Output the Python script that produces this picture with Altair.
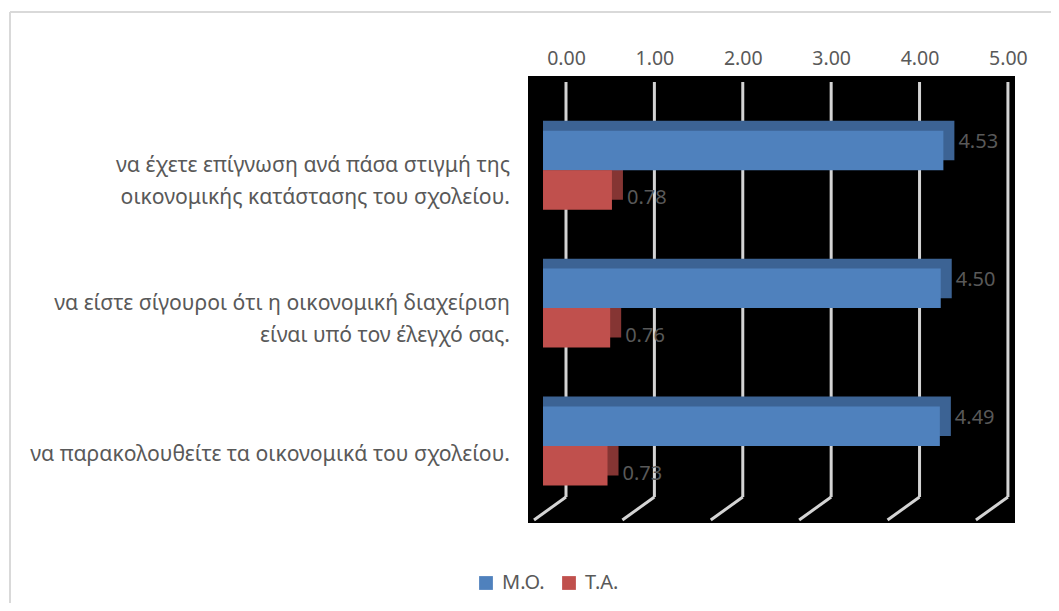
import altair as alt
import pandas as pd

categories = [
    "να έχετε επίγνωση ανά πάσα στιγμή της\nοικονομικής κατάστασης του σχολείου.",
    "να είστε σίγουροι ότι η οικονομική διαχείριση\nείναι υπό τον έλεγχό σας.",
    "να παρακολουθείτε τα οικονομικά του σχολείου.",
]
series = ["Μ.Ο.", "Τ.Α."]
mo_values = [4.53, 4.50, 4.49]
ta_values = [0.78, 0.76, 0.73]
tick_values = [0, 1, 2, 3, 4, 5]

colors = ["#4f81bd", "#c0504d"]
dark_colors = ["#3c6394", "#853533"]
FONT = "Noto Sans"
GREY = "#595959"

rows = []
for i, c in enumerate(categories):
    rows.append({"cat": c, "series": series[0], "value": mo_values[i], "zero": 0})
    rows.append({"cat": c, "series": series[1], "value": ta_values[i], "zero": 0})
df = pd.DataFrame(rows)
cat_df = pd.DataFrame({"cat": categories})
tick_df = pd.DataFrame({"t": tick_values})

W, H = 487, 447
xscale = alt.Scale(domain=[-0.43, 5.08], nice=False, zero=False)
yscale = alt.Scale(domain=categories, paddingInner=0, paddingOuter=0.12, align=0.76)
yoff_scale = alt.Scale(domain=series, paddingInner=0, paddingOuter=0.747)
yoff_depth = alt.Scale(domain=series, paddingInner=0, paddingOuter=0.747, range=[-10, 128])

base = alt.Chart(df)

grid_v = alt.Chart(tick_df).mark_rule(color="#d4d4d4", strokeWidth=3).encode(
    x=alt.X("t:Q", scale=xscale,
            axis=alt.Axis(orient="top", values=tick_values, format=".2f", title=None,
                          domain=False, ticks=False, grid=False, labelFontSize=19.5,
                          labelColor=GREY, labelFont=FONT, labelPadding=8)),
    y=alt.value(6), y2=alt.value(421),
)
grid_d = alt.Chart(tick_df).mark_rule(color="#d4d4d4", strokeWidth=3, x2Offset=-32).encode(
    x=alt.X("t:Q", scale=xscale), x2="t:Q",
    y=alt.value(421), y2=alt.value(444),
)

depth = base.mark_bar(xOffset=-12, x2Offset=-23).encode(
    x=alt.X("value:Q", scale=xscale), x2="zero:Q",
    y=alt.Y("cat:N", scale=yscale, axis=None, sort=categories),
    yOffset=alt.YOffset("series:N", scale=yoff_depth, sort=series),
    color=alt.Color("series:N", scale=alt.Scale(domain=series, range=dark_colors), legend=None),
)

bars = base.mark_bar(xOffset=-23, x2Offset=-23).encode(
    x=alt.X("value:Q", scale=xscale), x2="zero:Q",
    y=alt.Y("cat:N", scale=yscale, axis=None, sort=categories),
    yOffset=alt.YOffset("series:N", scale=yoff_scale, sort=series),
    color=alt.Color("series:N", scale=alt.Scale(domain=series, range=colors),
                    legend=alt.Legend(title=None, orient="none", legendX=-52, legendY=497,
                                      direction="horizontal", symbolType="square",
                                      symbolSize=190, symbolStrokeWidth=0, labelFontSize=20,
                                      labelFont=FONT, labelColor=GREY, columnPadding=14,
                                      labelOffset=6)),
)

labels = base.mark_text(align="left", baseline="middle", dx=-8, fontSize=20,
                        font=FONT, color=GREY).encode(
    x=alt.X("value:Q", scale=xscale),
    y=alt.Y("cat:N", scale=yscale, axis=None, sort=categories),
    yOffset=alt.YOffset("series:N", scale=yoff_scale, sort=series),
    text=alt.Text("value:Q", format=".2f"),
)

def cat_layer(filt, dy):
    return alt.Chart(cat_df).transform_filter(filt).mark_text(
        align="right", baseline="middle", lineBreak="\n", fontSize=21.2, font=FONT,
        color=GREY, lineHeight=32, dy=dy).encode(
        y=alt.Y("cat:N", scale=yscale, axis=None, sort=categories),
        x=alt.value(-18),
        text="cat:N",
    )

cat_two = cat_layer("indexof(datum.cat, '\\n') >= 0", -4)
cat_one = cat_layer("indexof(datum.cat, '\\n') < 0", 9)

border_l = alt.Chart(cat_df).mark_rule(color="#d9d9d9", strokeWidth=2).encode(
    x=alt.value(-518), y=alt.value(-64), y2=alt.value(528))
border_t = alt.Chart(cat_df).mark_rule(color="#d9d9d9", strokeWidth=2).encode(
    x=alt.value(-518), x2=alt.value(524), y=alt.value(-64))

chart = alt.layer(border_l, border_t, grid_v, grid_d, depth, bars, labels, cat_two, cat_one).resolve_scale(
    color="independent", yOffset="independent"
).properties(
    width=W, height=H,
    background="white",
    autosize=alt.AutoSizeParams(type="none"),
    padding={"left": 520, "top": 68, "right": 36, "bottom": 80},
).configure_view(fill="black", stroke=None)

chart.save("out.html", embed_options={"renderer": "svg", "actions": False})
